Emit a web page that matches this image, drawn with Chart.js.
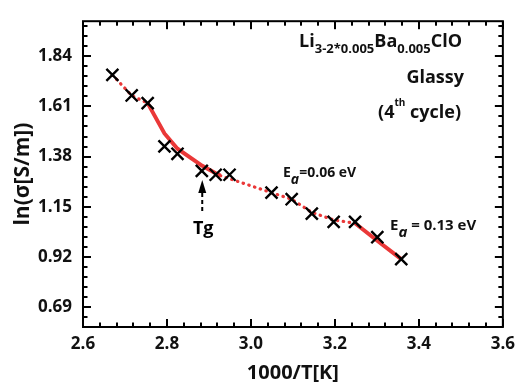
<!DOCTYPE html>
<html>
<head>
<meta charset="utf-8">
<script src="https://cdn.jsdelivr.net/npm/chart.js@4.4.0/dist/chart.umd.min.js"></script>
<style>
  html, body { margin: 0; padding: 0; background: #fff; }
</style>
</head>
<body>
<canvas id="arrhenius" width="522" height="383"></canvas>
<script>
// measured conductivity, 1000/T against ln(sigma)
var invT    = [2.670, 2.716, 2.754, 2.794, 2.825, 2.883, 2.916, 2.949, 3.049, 3.097, 3.145, 3.197, 3.248, 3.301, 3.358];
var lnSigma = [1.754, 1.660, 1.625, 1.427, 1.393, 1.315, 1.297, 1.297, 1.215, 1.185, 1.119, 1.081, 1.081, 1.011, 0.911];

// red guide line, drawn in four pieces: dotted / solid / dotted / solid
var hotDotX    = [2.670, 2.716, 2.754];
var hotDotY    = [1.754, 1.660, 1.625];
var tgFitX     = [2.754, 2.794, 2.825, 2.884, 2.916, 2.927];
var tgFitY     = [1.625, 1.486, 1.416, 1.338, 1.304, 1.293];
var midDotX    = [2.927, 3.049, 3.097, 3.145, 3.197, 3.248];
var midDotY    = [1.293, 1.215, 1.185, 1.125, 1.090, 1.075];
var coldFitX   = [3.248, 3.301, 3.358];
var coldFitY   = [1.075, 0.995, 0.911];

var xTicks = [2.6, 2.8, 3.0, 3.2, 3.4, 3.6];
var yTicks = [0.69, 0.92, 1.15, 1.38, 1.61, 1.84];
var xMinor = 0.04;
var yMinor = 0.046;
var tgAt = 2.884;

var RED = 'rgb(234, 56, 56)';
var FONT = '"Open Sans"';

function pts(xs, ys) {
    return xs.map(function (v, i) { return { x: v, y: ys[i] }; });
}

function lineSet(xs, ys, dotted) {
    return {
        data: pts(xs, ys),
        showLine: true,
        pointRadius: 0,
        borderColor: RED,
        borderWidth: dotted ? 3.2 : 4,
        borderDash: dotted ? [0.5, 5.5] : [],
        borderCapStyle: dotted ? 'round' : 'butt',
        order: 1
    };
}

// draw a row of text pieces, each with its own font and baseline shift;
// when right is true, x is where the row ends
function runs(ctx, x, y, parts, right) {
    if (right) {
        parts.forEach(function (p) {
            ctx.font = p[1];
            x -= ctx.measureText(p[0]).width;
        });
    }
    parts.forEach(function (p) {
        ctx.font = p[1];
        ctx.fillText(p[0], x, y + p[2]);
        x += ctx.measureText(p[0]).width;
    });
}

// box around the plot with inward ticks on all four sides
var frame = {
    id: 'frame',
    afterDraw: function (chart) {
        var ctx = chart.ctx, a = chart.chartArea;
        var xs = chart.scales.x, ys = chart.scales.y;
        var i, v, p, len;
        ctx.save();
        ctx.setLineDash([]);
        ctx.strokeStyle = '#000';
        ctx.fillStyle = '#000';
        ctx.lineWidth = 2;
        ctx.strokeRect(a.left, a.top, a.right - a.left, a.bottom - a.top);
        for (i = 0; i <= 25; i++) {
            v = xs.min + i * xMinor;
            p = Math.round(xs.getPixelForValue(v));
            len = (i % 5 === 0) ? 8 : 4.5;
            ctx.fillRect(p - 1, a.bottom - len, 2, len);
            ctx.fillRect(p - 1, a.top, 2, len);
        }
        for (i = -5; i <= 40; i++) {
            v = yTicks[0] + i * yMinor;
            if (v < ys.min || v > ys.max) continue;
            p = Math.round(ys.getPixelForValue(v));
            len = (i % 5 === 0) ? 8 : 4.5;
            ctx.fillRect(a.left, p - 1, len, 2);
            ctx.fillRect(a.right - len, p - 1, len, 2);
        }
        ctx.restore();
    }
};

var notes = {
    id: 'notes',
    afterDatasetsDraw: function (chart) {
        var ctx = chart.ctx;
        var main = 'bold 18px ' + FONT, sub = 'bold 13px ' + FONT;
        ctx.save();
        ctx.fillStyle = '#111';
        ctx.textAlign = 'left';
        ctx.textBaseline = 'alphabetic';

        runs(ctx, 462, 47, [
            ['Li', main, 0], ['3-2*0.005', sub, 6],
            ['Ba', main, 0], ['0.005', sub, 6],
            ['ClO', main, 0]
        ], true);
        runs(ctx, 464, 83, [['Glassy', main, 0]], true);
        runs(ctx, 461, 118, [
            ['(4', main, 0], ['th', 'bold 10px ' + FONT, -12], [' cycle)', main, 0]
        ], true);

        runs(ctx, 283, 177, [
            ['E', 'bold 14px ' + FONT, 0], ['a', 'italic bold 14px ' + FONT, 7],
            ['=0.06 eV', 'bold 14px ' + FONT, 0]
        ]);
        runs(ctx, 390, 230, [
            ['E', 'bold 15px ' + FONT, 0], ['a', 'italic bold 15px ' + FONT, 7],
            [' = 0.13 eV', 'bold 15px ' + FONT, 0]
        ]);

        // glass transition marker
        var tx = chart.scales.x.getPixelForValue(tgAt);
        ctx.fillStyle = '#000';
        ctx.beginPath();
        ctx.moveTo(tx, 180);
        ctx.lineTo(tx - 4, 193);
        ctx.lineTo(tx + 4, 193);
        ctx.closePath();
        ctx.fill();
        ctx.strokeStyle = '#000';
        ctx.lineWidth = 2;
        ctx.setLineDash([4, 3]);
        ctx.beginPath();
        ctx.moveTo(tx, 193);
        ctx.lineTo(tx, 213);
        ctx.stroke();
        ctx.setLineDash([]);
        ctx.font = 'bold 18px ' + FONT;
        ctx.textAlign = 'center';
        ctx.fillText('Tg', tx + 1, 234);
        ctx.restore();
    }
};

new Chart(document.getElementById('arrhenius').getContext('2d'), {
    type: 'scatter',
    data: {
        datasets: [
            {
                data: pts(invT, lnSigma),
                pointStyle: 'crossRot',
                pointRadius: 8.5,
                pointBorderWidth: 2.4,
                borderColor: '#000',
                backgroundColor: '#000',
                order: 0
            },
            lineSet(hotDotX, hotDotY, true),
            lineSet(tgFitX, tgFitY, false),
            lineSet(midDotX, midDotY, true),
            lineSet(coldFitX, coldFitY, false)
        ]
    },
    options: {
        responsive: false,
        animation: false,
        devicePixelRatio: 1,
        layout: { padding: { top: 14, right: 14, left: 0, bottom: 0 } },
        plugins: { legend: { display: false }, tooltip: { enabled: false } },
        scales: {
            x: {
                type: 'linear',
                min: 2.6,
                max: 3.6,
                grid: { display: false, drawTicks: false },
                border: { display: false },
                afterBuildTicks: function (s) { s.ticks = xTicks.map(function (v) { return { value: v }; }); },
                afterFit: function (s) { s.height = 56; },
                ticks: {
                    autoSkip: false,
                    maxRotation: 0,
                    padding: 7,
                    color: '#111',
                    font: { family: FONT, size: 17, weight: 'bold' },
                    callback: function (v) { return v.toFixed(1); }
                },
                title: {
                    display: true,
                    text: '1000/T[K]',
                    color: '#111',
                    padding: { top: 0, bottom: 0 },
                    font: { family: FONT, size: 20, weight: 'bold', lineHeight: 1 }
                }
            },
            y: {
                type: 'linear',
                min: 0.6,
                max: 2.0,
                grid: { display: false, drawTicks: false },
                border: { display: false },
                afterBuildTicks: function (s) { s.ticks = yTicks.map(function (v) { return { value: v }; }); },
                afterFit: function (s) { s.width = 83; },
                ticks: {
                    autoSkip: false,
                    padding: 11,
                    color: '#111',
                    font: { family: FONT, size: 17, weight: 'bold' },
                    callback: function (v) { return v.toFixed(2); }
                },
                title: {
                    display: true,
                    text: 'ln(σ[S/m])',
                    color: '#111',
                    padding: { top: 13, bottom: 0 },
                    font: { family: FONT, size: 21, weight: 'bold', lineHeight: 1 }
                }
            }
        }
    },
    plugins: [frame, notes]
});
</script>
</body>
</html>
